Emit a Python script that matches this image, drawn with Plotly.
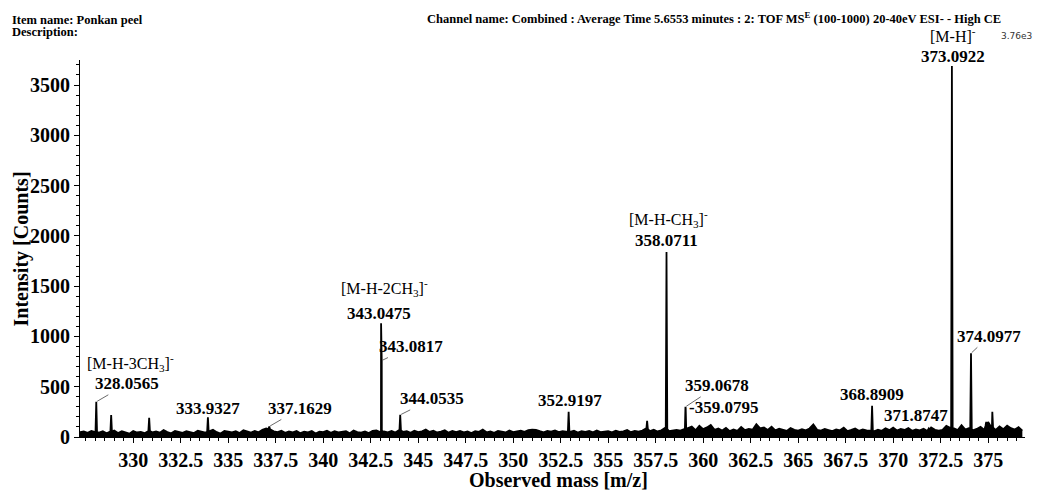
import numpy as np
import plotly.graph_objects as go

# ---------------- data ----------------
noise_start = 327.2
noise_step = 0.2
noise_int = [
    48, 55, 42, 61, 50, 44, 58, 36, 52, 64,
    40, 57, 46, 33, 59, 45, 51, 38, 62, 47,
    55, 43, 68, 49, 37, 60, 52, 41, 57, 46,
    39, 63, 50, 44, 56, 71, 48, 35, 61, 53,
    45, 58, 40, 66, 52, 43, 59, 47, 72, 84,
    78, 56, 49, 62, 41, 55, 47, 60, 38, 52,
    46, 59, 35, 54, 48, 63, 42, 57, 45, 51,
    58, 37, 64, 49, 43, 56, 40, 61, 66, 50,
    55, 47, 60, 44, 69, 52, 58, 41, 63, 48,
    57, 75, 50, 62, 45, 54, 67, 43, 59, 49,
    61, 46, 55, 40, 58, 52, 73, 47, 56, 42,
    60, 53, 45, 64, 49, 57, 62, 51, 68, 74,
    70, 58, 47, 61, 53, 66, 48, 59, 55, 50,
    63, 44, 57, 52, 60, 46, 65, 49, 54, 58,
    47, 62, 51, 56, 69, 48, 60, 53, 64, 85,
    58, 72, 55, 66, 91, 59, 62, 70, 64, 76,
    88, 104, 67, 112, 79, 95, 120, 71, 84, 65,
    90, 58, 76, 62, 99, 68, 81, 73, 128, 86,
    94, 70, 102, 66, 83, 75, 60, 89, 71, 64,
    78, 67, 85, 126, 72, 63, 80, 69, 58, 74,
    66, 92, 59, 71, 84, 62, 76, 65, 70, 57,
    73, 61, 86, 68, 93, 64, 79, 70, 88, 62,
    75, 67, 81, 60, 96, 72, 64, 70, 110, 92,
    85, 68, 118, 74, 90, 66, 80, 102, 71, 150,
    95, 70, 105, 78, 112, 88, 74, 98, 62,
]

peak_mz = [328.0565, 328.84, 330.84, 333.9327, 337.1629, 343.0475, 343.0817,
           344.0535, 352.9197, 357.05, 358.0711, 359.0678, 359.0795, 368.8909,
           371.8747, 373.0922, 374.0977, 374.90, 375.22]
peak_int = [350, 219, 190, 196, 105, 1130, 760,
            220, 252, 162, 1840, 300, 290, 311,
            85, 3690, 832, 150, 251]

labeled_mz = [328.0565, 333.9327, 337.1629, 343.0475, 343.0817, 344.0535,
              352.9197, 358.0711, 359.0678, 359.0795, 368.8909, 371.8747,
              373.0922, 374.0977]
labeled_text = ["328.0565", "333.9327", "337.1629", "343.0475", "343.0817", "344.0535",
                "352.9197", "358.0711", "359.0678", "-359.0795", "368.8909", "371.8747",
                "373.0922", "374.0977"]

ion_mz = [328.0565, 343.0475, 358.0711, 373.0922]
ion_text = ["[M-H-3CH<sub>3</sub>]<sup>-</sup>", "[M-H-2CH<sub>3</sub>]<sup>-</sup>",
            "[M-H-CH<sub>3</sub>]<sup>-</sup>", "[M-H]<sup>-</sup>"]

y_ticks = [0, 500, 1000, 1500, 2000, 2500, 3000, 3500]
x_ticks = [330, 332.5, 335, 337.5, 340, 342.5, 345, 347.5, 350, 352.5,
           355, 357.5, 360, 362.5, 365, 367.5, 370, 372.5, 375]
x_tick_text = ["330", "332.5", "335", "337.5", "340", "342.5", "345", "347.5", "350",
               "352.5", "355", "357.5", "360", "362.5", "365", "367.5", "370", "372.5", "375"]

# ---------------- layout / style ----------------
SERIF = "Liberation Serif, Times New Roman, serif"
# label offsets in pixels (ax, ay) and whether a leader line is drawn
label_style = [(31, -18, True), (0, -9, False), (31, -18, True), (-2, -10, False),
               (29, -14, True), (32, -16, True), (1, -11, False), (0, -11, False),
               (32, -21, True), (38, 0, False), (0, -11, False), (-13, -13, False),
               (1, -9, False), (18, -17, True)]
ion_style = [(34, -39), (3, -35), (2, -33), (1, -31)]

noise_mz = noise_start + noise_step * np.arange(len(noise_int))
pmz = np.array(peak_mz)
pint = np.array(peak_int, dtype=float)
half = 0.04
base = np.interp(pmz, noise_mz, noise_int)
xs = np.concatenate([noise_mz, pmz - half, pmz, pmz + half])
ys = np.concatenate([np.array(noise_int, dtype=float), base, pint, base])
order = np.argsort(xs, kind="stable")

fig = go.Figure()
fig.add_trace(go.Scatter(
    x=xs[order], y=ys[order], mode="lines",
    line=dict(color="black", width=1.8),
    fill="tozeroy", fillcolor="black", hoverinfo="skip", showlegend=False,
))

def intensity_of(mz):
    return peak_int[peak_mz.index(mz)]

annotations = []
for mz, txt, (ax, ay, arrow) in zip(labeled_mz, labeled_text, label_style):
    annotations.append(dict(
        x=mz, y=intensity_of(mz), xref="x", yref="y",
        text=f"<b>{txt}</b>", showarrow=True, ax=ax, ay=ay,
        arrowhead=0, arrowwidth=0.8, standoff=1,
        arrowcolor="#444" if arrow else "rgba(0,0,0,0)",
        font=dict(family=SERIF, size=17, color="black"),
    ))
for mz, txt, (ax, ay) in zip(ion_mz, ion_text, ion_style):
    annotations.append(dict(
        x=mz, y=intensity_of(mz), xref="x", yref="y",
        text=txt, showarrow=True, ax=ax, ay=ay, arrowcolor="rgba(0,0,0,0)",
        font=dict(family=SERIF, size=16, color="black"),
    ))

# header & titles
annotations += [
    dict(x=-0.074, y=1.106, xref="paper", yref="paper", xanchor="left", yanchor="middle",
         text="<b>Item name: Ponkan peel</b>", showarrow=False,
         font=dict(family=SERIF, size=12.5, color="black")),
    dict(x=-0.074, y=1.074, xref="paper", yref="paper", xanchor="left", yanchor="middle",
         text="<b>Description:</b>", showarrow=False,
         font=dict(family=SERIF, size=12.5, color="black")),
    dict(x=0.977, y=1.111, xref="paper", yref="paper", xanchor="right", yanchor="middle",
         text="<b>Channel name: Combined : Average Time 5.6553 minutes : 2: TOF MS<sup>E</sup> (100-1000) 20-40eV ESI- - High CE</b>",
         showarrow=False, font=dict(family=SERIF, size=12.5, color="black")),
    dict(x=0.9915, y=1.0637, xref="paper", yref="paper", xanchor="center", yanchor="middle",
         text="3.76e3", showarrow=False,
         font=dict(family="DejaVu Sans, sans-serif", size=9, color="#333")),
    dict(x=-0.0614, y=0.5, xref="paper", yref="paper", xanchor="center", yanchor="middle",
         text="<b>Intensity [Counts]</b>", textangle=-90, showarrow=False,
         font=dict(family=SERIF, size=20, color="black")),
    dict(x=0.506, y=-0.114, xref="paper", yref="paper", xanchor="center", yanchor="middle",
         text="<b>Observed mass [m/z]</b>", showarrow=False,
         font=dict(family=SERIF, size=20, color="black")),
]

fig.update_layout(
    width=1037, height=492,
    margin=dict(l=80, r=12, t=60, b=55),
    paper_bgcolor="white", plot_bgcolor="white",
    annotations=annotations,
    xaxis=dict(
        range=[327.2, 376.94], showgrid=False, zeroline=False,
        showline=True, linecolor="black", linewidth=1,
        ticks="outside", ticklen=5, tickcolor="black",
        tickvals=x_ticks, ticktext=x_tick_text,
        tickfont=dict(family=SERIF, size=20, color="black", weight="bold"),
        minor=dict(dtick=0.5, tick0=330, ticks="outside", ticklen=3, tickcolor="black"),
    ),
    yaxis=dict(
        range=[0, 3749], showgrid=False, zeroline=False,
        showline=True, linecolor="black", linewidth=1,
        ticks="outside", ticklen=5, tickcolor="black",
        tickvals=y_ticks,
        tickfont=dict(family=SERIF, size=20, color="black", weight="bold"),
        minor=dict(dtick=100, tick0=0, ticks="outside", ticklen=3, tickcolor="black"),
    ),
)

fig.write_html("out.html")
